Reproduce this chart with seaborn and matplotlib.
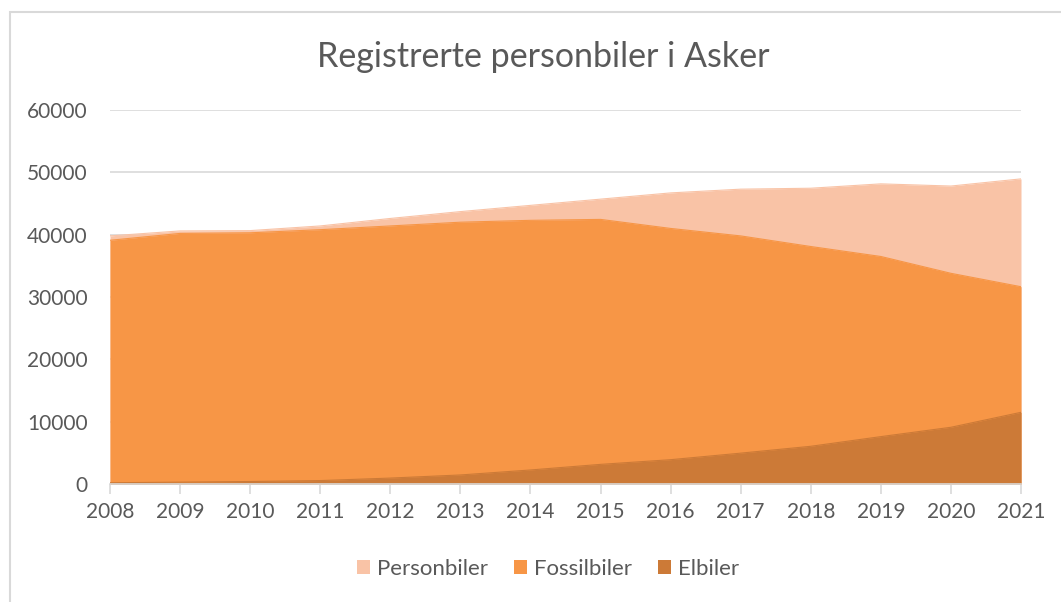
import pandas as pd
import matplotlib
matplotlib.use('Agg')
import matplotlib.pyplot as plt
import seaborn as sns
from matplotlib.patches import Rectangle, Patch

years = list(range(2008, 2022))
personbiler = [39800, 40600, 40650, 41400, 42600, 43700, 44700, 45700,
               46700, 47300, 47450, 48150, 47800, 48950]
fossilbiler = [39100, 40200, 40300, 40800, 41400, 42000, 42300, 42450,
               41000, 39800, 38100, 36500, 33800, 31650]
elbiler = [200, 300, 400, 550, 950, 1450, 2250, 3150,
           3900, 4950, 6050, 7600, 9100, 11500]

series = ['Personbiler', 'Fossilbiler', 'Elbiler']
colors = ['#F9C3A6', '#F79646', '#CC7A37']

df = pd.DataFrame({'year': years, 'Personbiler': personbiler,
                   'Fossilbiler': fossilbiler, 'Elbiler': elbiler})

sns.set_theme(style='white')
plt.rcParams['font.family'] = ['Lato', 'DejaVu Sans']
text_col = '#595959'

fig = plt.figure(figsize=(10.61, 6.02), dpi=100)
ax = fig.add_axes([110 / 1061, 1 - 484 / 602, 911 / 1061, 374 / 602])

# overlapping areas (not stacked), back to front
for name, col in zip(series, colors):
    ax.fill_between(df['year'], 0, df[name], color=col, linewidth=0, zorder=2)
    sns.lineplot(data=df, x='year', y=name, color=col, linewidth=0.8, ax=ax, zorder=3)

ax.set_xlim(2008, 2021)
ax.set_ylim(0, 60000)
ax.set_yticks(range(0, 60001, 10000))
ax.set_xticks(years)
ax.set_xticklabels([str(y) for y in years])
ax.grid(axis='y', color='#D9D9D9', linewidth=1.2, zorder=0)
ax.set_axisbelow(True)
ax.set_xlabel('')
ax.set_ylabel('')

sns.despine(ax=ax, left=True, top=True, right=True)
ax.spines['bottom'].set_color('#D9D9D9')
ax.spines['bottom'].set_linewidth(1.2)
ax.spines['bottom'].set_zorder(5)
ax.tick_params(axis='x', which='both', bottom=True, length=7, width=1.2,
               color='#D9D9D9', pad=6, labelsize=15, labelcolor=text_col)
ax.tick_params(axis='y', left=False, pad=10, labelsize=15, labelcolor=text_col)

fig.text(543 / 1061, 1 - 57 / 602, 'Registrerte personbiler i Asker', ha='center', va='center',
         fontsize=24.5, color=text_col)

handles = [Patch(facecolor=c, edgecolor='none') for c in colors]
fig.legend(handles, series, loc='center', bbox_to_anchor=(548 / 1061, 1 - 569 / 602), ncol=3,
           frameon=False, fontsize=16, labelcolor=text_col, handlelength=0.62,
           handleheight=0.62, handletextpad=0.3, columnspacing=1.15)

# chart frame (only top and left edges are visible in the crop)
fig.patches.append(Rectangle((10 / 1061, -0.1), 1.2, 1.1 - 12 / 602, transform=fig.transFigure,
                             fill=False, edgecolor='#D9D9D9', linewidth=1.5))

fig.savefig('out.png', dpi=100)
